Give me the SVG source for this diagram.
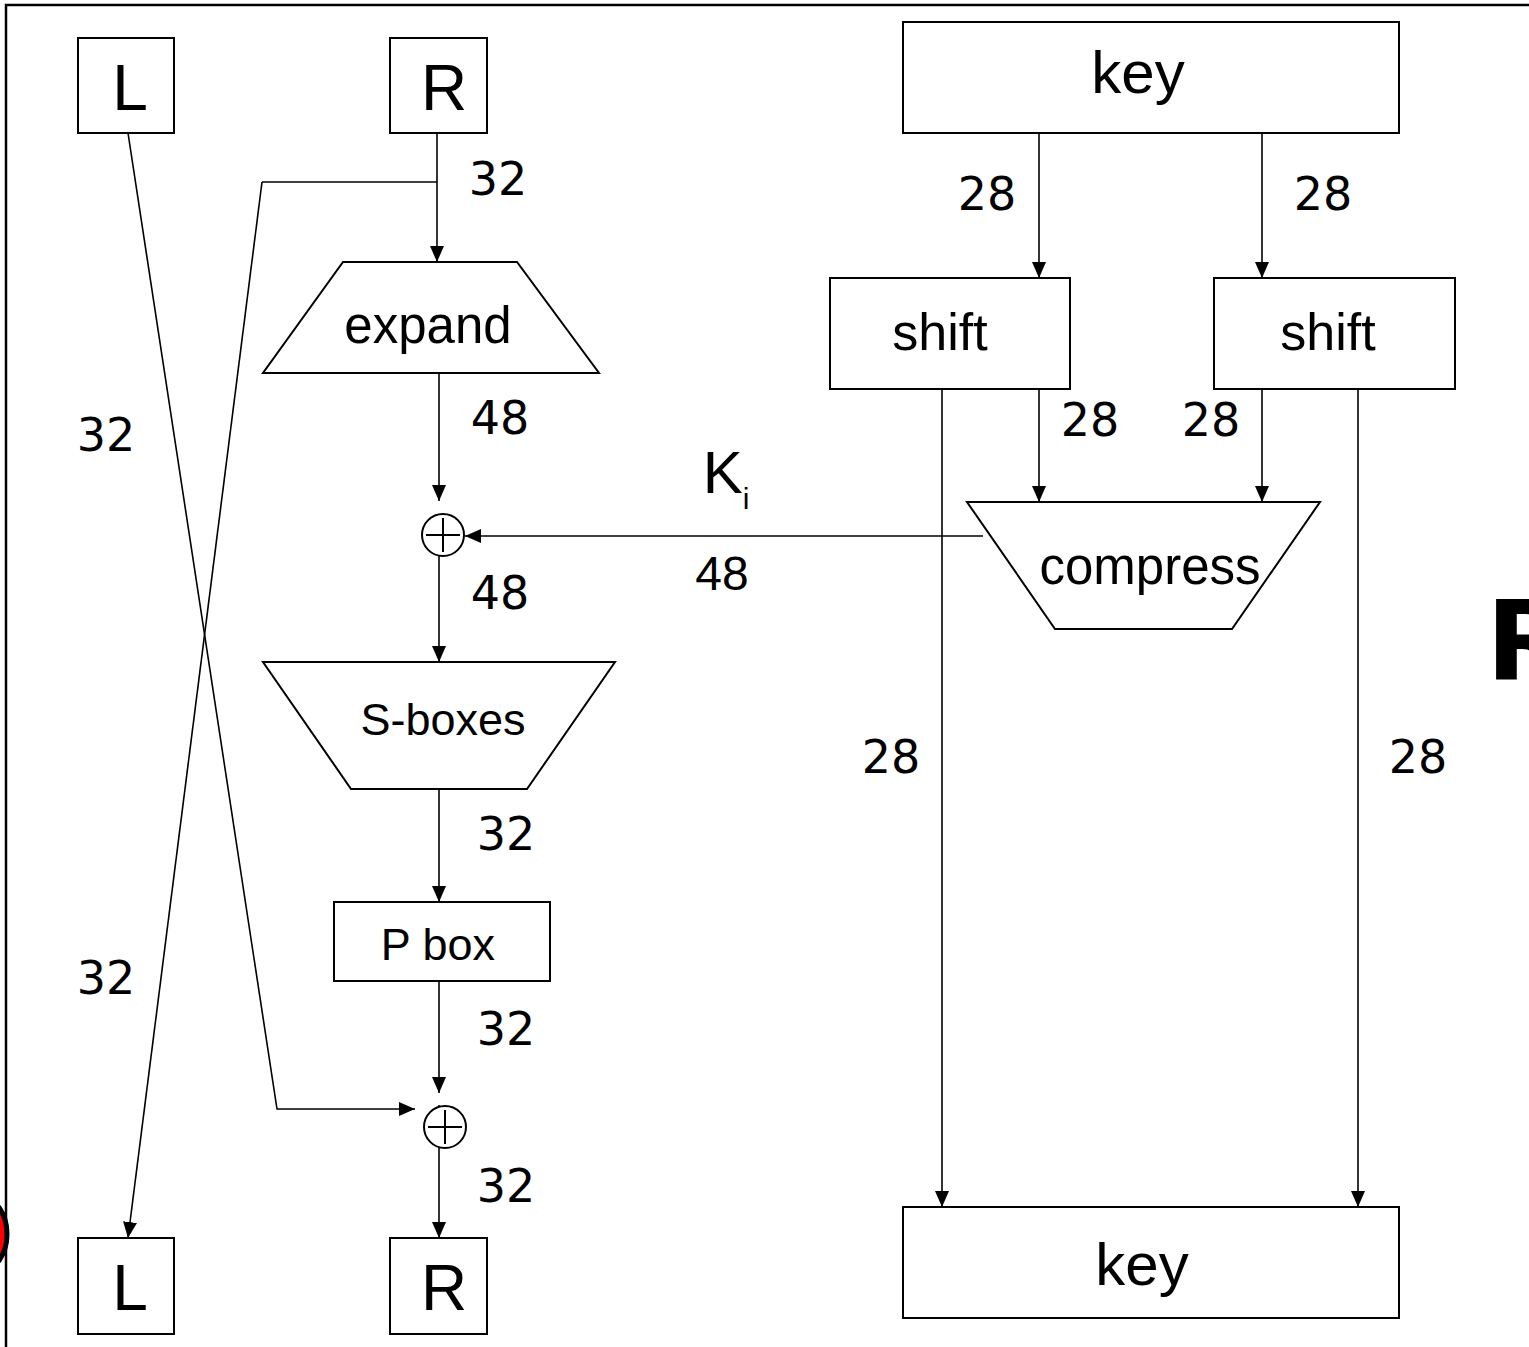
<svg xmlns="http://www.w3.org/2000/svg" width="1529" height="1347" viewBox="0 0 1529 1347">
  <defs>
    <marker id="arrow" markerUnits="userSpaceOnUse" markerWidth="16" markerHeight="14" viewBox="0 0 16 14" refX="16" refY="7" orient="auto">
      <path d="M0,0 L16,7 L0,14 Z" fill="#000"/>
    </marker>
    <style>
      .box { fill: #fff; stroke: #000; stroke-width: 2; }
      .wire { fill: none; stroke: #000; stroke-width: 1.6; }
      .arr { marker-end: url(#arrow); }
      .lbl { font-family: "Liberation Sans", Arial, sans-serif; fill: #000; text-anchor: middle; }
      .num { font-family: "Comic Sans MS", "DejaVu Sans", sans-serif; font-size: 46px; fill: #000; text-anchor: middle; }
      .xor { fill: #fff; stroke: #000; stroke-width: 2; }
    </style>
  </defs>

  <rect width="1529" height="1347" fill="#fff"/>

  <!-- partial decorations at the slide edges -->
  <ellipse cx="-18" cy="1234" rx="25" ry="36" fill="#f00" stroke="#000" stroke-width="5"/>
  <text x="1486" y="680" font-family="DejaVu Sans, sans-serif" font-weight="bold" font-size="110" fill="#000">R</text>

  <!-- frame -->
  <path d="M6,1347 V5 H1529" fill="none" stroke="#000" stroke-width="2.5"/>

  <!-- connectors -->
  <g id="connectors">
    <line class="wire arr" x1="437" y1="133" x2="437" y2="262"/>
    <polyline class="wire" points="437,182 262,182"/>
    <polyline class="wire arr" points="262,182 128,1238"/>
    <polyline class="wire arr" points="128,133 277,1109 415,1109"/>
    <line class="wire arr" x1="439" y1="373" x2="439" y2="501"/>
    <line class="wire arr" x1="439" y1="514" x2="439" y2="662"/>
    <line class="wire arr" x1="983" y1="536" x2="465" y2="536"/>
    <line class="wire arr" x1="439" y1="789" x2="439" y2="902"/>
    <line class="wire arr" x1="439" y1="981" x2="439" y2="1093"/>
    <line class="wire arr" x1="439" y1="1105" x2="439" y2="1238"/>
    <line class="wire arr" x1="1039" y1="133" x2="1039" y2="278"/>
    <line class="wire arr" x1="1262" y1="133" x2="1262" y2="278"/>
    <line class="wire arr" x1="1039" y1="389" x2="1039" y2="502"/>
    <line class="wire arr" x1="1262" y1="389" x2="1262" y2="502"/>
    <line class="wire arr" x1="942" y1="389" x2="942" y2="1207"/>
    <line class="wire arr" x1="1358" y1="389" x2="1358" y2="1207"/>
  </g>

  <!-- left half, top -->
  <g id="L-in">
    <rect class="box" x="78" y="38" width="96" height="95"/>
    <text class="lbl" x="130" y="110" font-size="64">L</text>
  </g>
  <g id="R-in">
    <rect class="box" x="390" y="38" width="97" height="95"/>
    <text class="lbl" x="444" y="110" font-size="64">R</text>
  </g>

  <!-- round function -->
  <g id="expand">
    <polygon class="box" points="343,262 517,262 599,373 263,373"/>
    <text class="lbl" x="428" y="343" font-size="51">expand</text>
  </g>
  <g id="xor-key">
    <circle class="xor" cx="443" cy="535" r="21"/>
    <path d="M426,535 H460 M443,518 V552" stroke="#000" stroke-width="2"/>
  </g>
  <g id="sboxes">
    <polygon class="box" points="263,662 615,662 527,789 351,789"/>
    <text class="lbl" x="443" y="735" font-size="45">S-boxes</text>
  </g>
  <g id="pbox">
    <rect class="box" x="334" y="902" width="216" height="79"/>
    <text class="lbl" x="438" y="960" font-size="45">P box</text>
  </g>
  <g id="xor-l">
    <circle class="xor" cx="445" cy="1127" r="21"/>
    <path d="M428,1127 H462 M445,1110 V1144" stroke="#000" stroke-width="2"/>
  </g>

  <!-- left half, bottom -->
  <g id="L-out">
    <rect class="box" x="78" y="1238" width="96" height="96"/>
    <text class="lbl" x="130" y="1310" font-size="64">L</text>
  </g>
  <g id="R-out">
    <rect class="box" x="390" y="1238" width="97" height="96"/>
    <text class="lbl" x="444" y="1310" font-size="64">R</text>
  </g>

  <!-- key schedule -->
  <g id="key-in">
    <rect class="box" x="903" y="22" width="496" height="111"/>
    <text class="lbl" x="1138" y="93" font-size="60">key</text>
  </g>
  <g id="shift-left">
    <rect class="box" x="830" y="278" width="240" height="111"/>
    <text class="lbl" x="940" y="350" font-size="52">shift</text>
  </g>
  <g id="shift-right">
    <rect class="box" x="1214" y="278" width="241" height="111"/>
    <text class="lbl" x="1328" y="350" font-size="52">shift</text>
  </g>
  <g id="compress">
    <polygon class="box" points="967,502 1320,502 1232,629 1055,629"/>
    <text class="lbl" x="1150" y="584" font-size="51">compress</text>
  </g>
  <g id="key-out">
    <rect class="box" x="903" y="1207" width="496" height="111"/>
    <text class="lbl" x="1142" y="1285" font-size="60">key</text>
  </g>

  <!-- bit widths -->
  <g id="labels">
    <text class="num" x="498" y="195">32</text>
    <text class="num" x="987" y="210">28</text>
    <text class="num" x="1323" y="210">28</text>
    <text class="num" x="106" y="451">32</text>
    <text class="num" x="500" y="434">48</text>
    <text class="num" x="1090" y="436">28</text>
    <text class="num" x="1211" y="436">28</text>
    <text class="num" x="500" y="609">48</text>
    <text class="num" x="891" y="773">28</text>
    <text class="num" x="1418" y="773">28</text>
    <text class="num" x="506" y="850">32</text>
    <text class="num" x="106" y="994">32</text>
    <text class="num" x="506" y="1045">32</text>
    <text class="num" x="506" y="1202">32</text>
    <text class="lbl" x="722" y="590" font-size="48">48</text>
    <text class="lbl" x="726" y="493" font-size="60" text-anchor="middle">K<tspan font-size="30" dy="16">i</tspan></text>
  </g>
</svg>
